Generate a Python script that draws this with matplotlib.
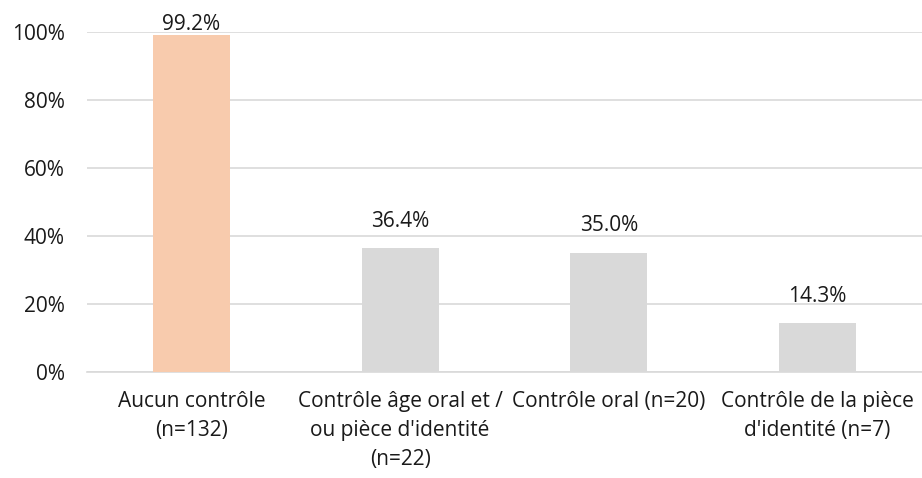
import matplotlib
matplotlib.use("Agg")
import matplotlib.pyplot as plt
from matplotlib.ticker import FuncFormatter

categories = ["Aucun contrôle\n(n=132)",
              "Contrôle âge oral et /\nou pièce d'identité\n(n=22)",
              "Contrôle oral (n=20)",
              "Contrôle de la pièce\nd'identité (n=7)"]
values = [99.2, 36.4, 35.0, 14.3]
colors = ["#F8CBAD", "#D9D9D9", "#D9D9D9", "#D9D9D9"]
yticks = [0, 20, 40, 60, 80, 100]

plt.rcParams['font.family'] = ['Open Sans', 'DejaVu Sans']
fs = 15
tc = "#1a1a1a"
fig = plt.figure(figsize=(9.22, 4.78), dpi=100)
ax = fig.add_axes([87/922, 1-372/478, 1-87/922, (372-32)/478])
x = range(len(values))
ax.bar(x, values, width=0.37, color=colors, zorder=3)
for xi, v in zip(x, values):
    off = 0 if v > 95 else 12
    ax.annotate(f"{v:.1f}%", (xi, v), xytext=(0, off), textcoords="offset points",
                ha="center", va="bottom", fontsize=fs, color=tc)
ax.set_xlim(-0.5, len(values) - 0.5)
ax.set_ylim(0, 100)
ax.set_yticks(yticks)
ax.yaxis.set_major_formatter(FuncFormatter(lambda v, p: f"{v:.0f}%"))
ax.set_xticks(list(x))
ax.set_xticklabels(categories, fontsize=fs, color=tc, linespacing=1.5)
ax.tick_params(axis='y', labelsize=fs, colors=tc, length=0, pad=16)
ax.tick_params(axis='x', length=0, pad=13.5)
ax.grid(axis='y', color="#D9D9D9", linewidth=1.2, zorder=0)
for s in ["top", "right", "left"]:
    ax.spines[s].set_visible(False)
ax.spines["bottom"].set_color("#D9D9D9")
ax.spines["bottom"].set_linewidth(1.2)
fig.savefig("out.png", dpi=100)
